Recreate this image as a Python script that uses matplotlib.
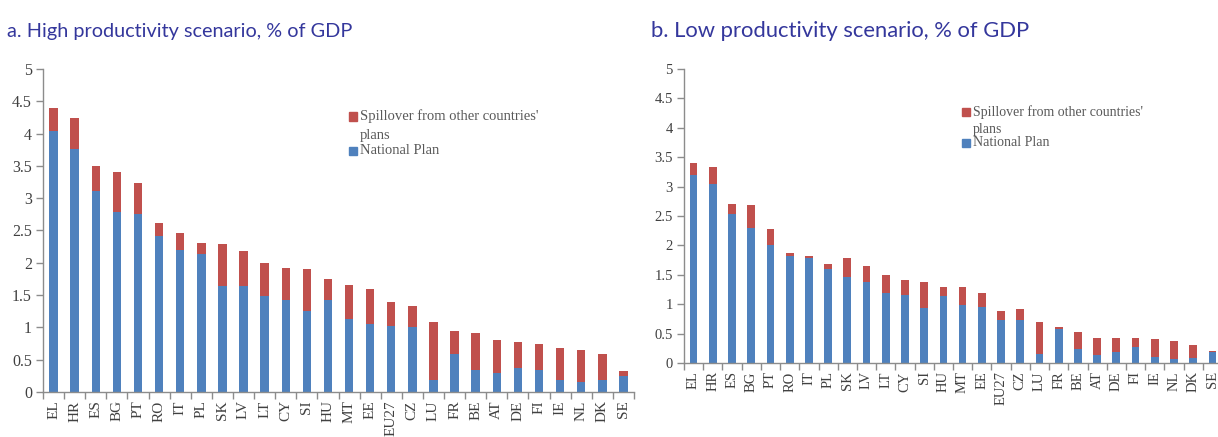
import matplotlib
matplotlib.use("Agg")
import matplotlib.pyplot as plt
import numpy as np
from matplotlib.patches import Rectangle

countries = ["EL", "HR", "ES", "BG", "PT", "RO", "IT", "PL", "SK", "LV", "LT", "CY", "SI", "HU",
             "MT", "EE", "EU27", "CZ", "LU", "FR", "BE", "AT", "DE", "FI", "IE", "NL", "DK", "SE"]

# a. high productivity scenario, % of GDP
high_national = [4.04, 3.76, 3.11, 2.79, 2.76, 2.41, 2.20, 2.14, 1.64, 1.64, 1.49, 1.42, 1.25, 1.43,
                 1.13, 1.06, 1.02, 1.01, 0.19, 0.59, 0.34, 0.30, 0.37, 0.34, 0.18, 0.15, 0.18, 0.25]
high_spillover = [0.35, 0.48, 0.39, 0.61, 0.48, 0.20, 0.26, 0.16, 0.65, 0.54, 0.51, 0.50, 0.66, 0.32,
                  0.53, 0.53, 0.38, 0.32, 0.90, 0.35, 0.57, 0.50, 0.41, 0.41, 0.50, 0.50, 0.41, 0.07]

# b. low productivity scenario, % of GDP
low_national = [3.19, 3.05, 2.53, 2.30, 2.00, 1.82, 1.78, 1.60, 1.46, 1.38, 1.19, 1.15, 0.93, 1.14,
                0.99, 0.96, 0.73, 0.73, 0.15, 0.57, 0.24, 0.13, 0.19, 0.28, 0.10, 0.06, 0.08, 0.19]
low_spillover = [0.21, 0.29, 0.18, 0.38, 0.28, 0.05, 0.04, 0.08, 0.32, 0.27, 0.30, 0.26, 0.44, 0.16,
                 0.31, 0.23, 0.15, 0.18, 0.54, 0.04, 0.29, 0.30, 0.24, 0.15, 0.31, 0.31, 0.23, 0.01]

y_ticks = [0, 0.5, 1, 1.5, 2, 2.5, 3, 3.5, 4, 4.5, 5]
y_tick_labels = ["0", "0.5", "1", "1.5", "2", "2.5", "3", "3.5", "4", "4.5", "5"]

BLUE = "#4F81BD"
RED = "#C0504D"
AXIS_GREY = "#8C8C8C"
TEXT_GREY = "#404040"
TITLE_BLUE = "#34379C"
SERIF = "Liberation Serif"

W, H = 1218, 437
fig = plt.figure(figsize=(W / 100, H / 100), dpi=100)


def fx(x):
    return x / W


def fy(y):
    return 1 - y / H


def draw_panel(rect, national, spillover, tick_size, label_size):
    ax = fig.add_axes(rect)
    x = np.arange(len(countries))
    ax.bar(x, national, width=0.4, color=BLUE, zorder=2)
    ax.bar(x, spillover, width=0.4, bottom=national, color=RED, zorder=2)

    ax.set_xlim(-0.5, len(countries) - 0.5)
    ax.set_ylim(0, 5)
    ax.set_yticks(y_ticks)
    ax.set_yticklabels(y_tick_labels, family=SERIF, fontsize=tick_size, color=TEXT_GREY)
    ax.set_xticks(x)
    ax.set_xticklabels(countries, rotation=90, family=SERIF, fontsize=label_size, color=TEXT_GREY)
    ax.set_xticks(np.arange(-0.5, len(countries), 1), minor=True)
    ax.tick_params(axis="x", which="major", length=0, pad=6)
    ax.tick_params(axis="x", which="minor", length=5, color=AXIS_GREY, width=1)
    ax.tick_params(axis="y", length=5, color=AXIS_GREY, width=1, pad=3)

    for side in ("top", "right"):
        ax.spines[side].set_visible(False)
    for side in ("left", "bottom"):
        ax.spines[side].set_color(AXIS_GREY)
        ax.spines[side].set_linewidth(1)
    return ax


def draw_key(x_square, y_spill, y_plans, y_nat, size, fontsize):
    fig.patches.append(Rectangle((fx(x_square), fy(y_spill + size / 2)), size / W, size / H,
                                 transform=fig.transFigure, color=RED))
    fig.patches.append(Rectangle((fx(x_square), fy(y_nat + size / 2)), size / W, size / H,
                                 transform=fig.transFigure, color=BLUE))
    tx = fx(x_square + size + 3)
    kw = dict(family=SERIF, fontsize=fontsize, color="#595959", va="center", ha="left")
    fig.text(tx, fy(y_spill), "Spillover from other countries'", **kw)
    fig.text(tx, fy(y_plans), "plans", **kw)
    fig.text(tx, fy(y_nat), "National Plan", **kw)


left = draw_panel([fx(43), fy(392), fx(634) - fx(43), fy(69) - fy(392)],
                  high_national, high_spillover, 11.5, 11)
right = draw_panel([fx(684), fy(363), fx(1222) - fx(684), fy(69) - fy(363)],
                   low_national, low_spillover, 10.5, 10.5)

draw_key(349, 116.5, 135, 151, 8, 10.5)
draw_key(962, 112, 129, 143, 8, 10)

title_kw = dict(family="Lato", color=TITLE_BLUE, va="baseline", ha="left")
fig.text(fx(7), fy(37), "a. High productivity scenario, % of GDP", fontsize=14.3, **title_kw)
fig.text(fx(651), fy(37), "b. Low productivity scenario, % of GDP", fontsize=15.8, **title_kw)

fig.savefig("out.png", dpi=100)
